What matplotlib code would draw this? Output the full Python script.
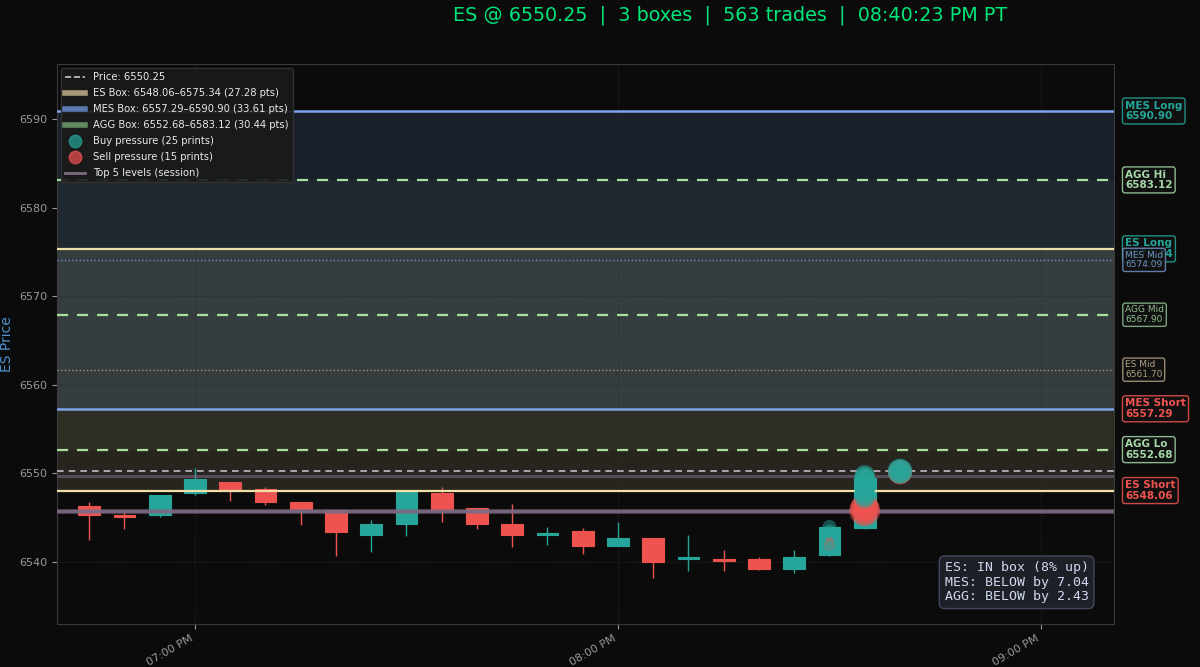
import datetime as dt
import matplotlib
matplotlib.use("Agg")
import matplotlib.pyplot as plt
import matplotlib.dates as mdates
import matplotlib.transforms as mtrans
from matplotlib.lines import Line2D

# ---- data ----
price = 6550.25
n_trades = 563
clock = "08:40:23 PM PT"

boxes = ["ES", "MES", "AGG"]
box_lo = [6548.06, 6557.29, 6552.68]
box_hi = [6575.34, 6590.90, 6583.12]

candle_start = dt.datetime(2025, 1, 6, 18, 45)
opens = [6546.30, 6545.30, 6545.30, 6547.75, 6549.05, 6548.20, 6546.80, 6545.85,
         6543.05, 6544.30, 6547.75, 6546.05, 6544.30, 6543.05, 6543.55, 6541.75,
         6542.75, 6540.30, 6540.35, 6540.35, 6539.25, 6540.80, 6543.80]
highs = [6546.80, 6545.60, 6547.60, 6550.60, 6549.05, 6548.50, 6546.80, 6545.85,
         6544.75, 6548.00, 6548.50, 6546.05, 6546.50, 6544.00, 6543.80, 6544.55,
         6542.75, 6543.05, 6541.30, 6540.55, 6541.30, 6544.00, 6549.75]
lows = [6542.50, 6543.70, 6545.10, 6547.60, 6546.90, 6546.40, 6544.20, 6540.70,
        6541.15, 6542.90, 6544.55, 6543.70, 6541.65, 6541.90, 6540.90, 6541.75,
        6538.20, 6539.00, 6539.00, 6539.10, 6538.75, 6540.70, 6543.70]
closes = [6545.30, 6545.05, 6547.55, 6549.35, 6548.05, 6546.80, 6546.00, 6543.35,
          6544.30, 6547.90, 6545.85, 6544.30, 6543.05, 6543.30, 6541.75, 6542.75,
          6540.05, 6540.55, 6540.10, 6539.25, 6540.55, 6544.00, 6549.50]

# prints: minutes after 18:00, price, size
buy_min = [150, 150, 150, 150] + [155] * 15 + [160] * 6
buy_px = [6543.95, 6543.6, 6542.0, 6541.8,
          6549.8, 6549.6, 6549.4, 6549.2, 6549.0, 6548.8, 6548.6, 6548.4,
          6548.2, 6548.0, 6547.8, 6547.6, 6547.4, 6547.2, 6549.7,
          6550.25, 6550.3, 6550.2, 6550.25, 6550.3, 6550.2]
buy_sz = [90, 60, 40, 30,
          200, 200, 190, 200, 180, 200, 190, 200, 180, 200, 190, 200, 180, 200, 150,
          300, 250, 200, 150, 100, 280]
sell_min = [150, 150] + [155] * 8 + [160] * 5
sell_px = [6541.9, 6542.3,
           6545.8, 6546.0, 6545.6, 6546.3, 6545.9, 6545.7, 6546.1, 6545.5,
           6550.1, 6550.2, 6550.0, 6550.25, 6550.1]
sell_sz = [50, 30,
           470, 350, 300, 250, 200, 150, 400, 100,
           280, 200, 150, 100, 250]

top_levels = [6549.75, 6545.75, 6545.75, 6545.6, 6545.9]

# ---- style ----
BG = "#0b0b0b"
UP = "#26a69a"
DN = "#ef5350"
fill_col = {"ES": "#d8c090", "MES": "#6b8fd6", "AGG": "#90d090"}
fill_alpha = {"ES": 0.145, "MES": 0.16, "AGG": 0.05}
legend_col = {"ES": "#a89a78", "MES": "#5a78b0", "AGG": "#5e8a5e"}

fig = plt.figure(figsize=(12, 6.67), dpi=100, facecolor=BG)
ax = fig.add_axes([0.0475, 0.0645, 0.8808, 0.8395])
ax.set_facecolor(BG)

# box fills
for b, lo, hi in zip(boxes, box_lo, box_hi):
    ax.axhspan(lo, hi, color=fill_col[b], alpha=fill_alpha[b], lw=0, zorder=0)

# candles
w = 3.1 / 1440
for i in range(len(opens)):
    t = mdates.date2num(candle_start + dt.timedelta(minutes=5 * i))
    o, h, l, c = opens[i], highs[i], lows[i], closes[i]
    col = UP if c >= o else DN
    ax.vlines(t, l, h, color=col, lw=1, zorder=2)
    bot = min(o, c)
    ht = max(abs(c - o), 0.25)
    ax.bar(t, ht, width=w, bottom=bot, color=col, edgecolor=col, lw=0.8, zorder=3)

# levels
es_lo, mes_lo, agg_lo = box_lo
es_hi, mes_hi, agg_hi = box_hi
for lv in top_levels:
    ax.axhline(lv, color="#7d6b85", lw=2.2, alpha=0.55, zorder=4)
ax.axhline(mes_hi, color="#7ea4e8", lw=1.8, zorder=4)
ax.axhline(mes_lo, color="#7ea4e8", lw=1.8, zorder=4)
ax.axhline(es_hi, color="#f0e0a8", lw=1.6, zorder=4)
ax.axhline(es_lo, color="#f0e0a8", lw=1.6, zorder=4)
for lv in (agg_hi, agg_lo, (agg_hi + agg_lo) / 2):
    ax.axhline(lv, color="#a8e0a0", lw=1.6, ls=(0, (5, 4)), zorder=4)
ax.axhline((mes_hi + mes_lo) / 2, color="#7090d0", lw=1, ls=":", zorder=4)
ax.axhline((es_hi + es_lo) / 2, color="#a09880", lw=1, ls=":", zorder=4)
ax.axhline(price, color="#c8b8c8", lw=1.2, ls=(0, (4, 3)), zorder=4)

# prints
base = dt.datetime(2025, 1, 6, 18, 0)
sx = [base + dt.timedelta(minutes=m) for m in sell_min]
bx = [base + dt.timedelta(minutes=m) for m in buy_min]
ax.scatter(sx, sell_px, s=sell_sz, color=DN, alpha=0.5, edgecolors=DN, linewidths=0.5, zorder=5)
ax.scatter(bx, buy_px, s=buy_sz, color=UP, alpha=0.45, edgecolors=UP, linewidths=0.5, zorder=6)

# axes
ax.set_ylim(6533.0, 6596.2)
ax.set_xlim(dt.datetime(2025, 1, 6, 18, 40, 26), dt.datetime(2025, 1, 6, 21, 10, 21))
ax.xaxis.set_major_locator(mdates.HourLocator())
ax.xaxis.set_major_formatter(mdates.DateFormatter("%I:%M %p"))
ax.tick_params(axis="both", colors="#999999", labelsize=8)
plt.setp(ax.get_xticklabels(), rotation=30, ha="right")
ax.grid(True, color="#2a2a2a", ls=":", lw=0.7)
for s in ax.spines.values():
    s.set_color("#3a3a3a")
ax.set_ylabel("ES Price", color="#4a90d0", fontsize=10)

# right side labels
tr = mtrans.blended_transform_factory(ax.transAxes, ax.transData)
side = [
    ("MES Long", mes_hi, UP, True),
    ("AGG Hi", agg_hi, "#a5d6a7", True),
    ("ES Long", es_hi, UP, True),
    ("MES Mid", (mes_hi + mes_lo) / 2, "#7090c0", False),
    ("AGG Mid", (agg_hi + agg_lo) / 2, "#8fbf8f", False),
    ("ES Mid", (es_hi + es_lo) / 2, "#b0a080", False),
    ("MES Short", mes_lo, DN, True),
    ("AGG Lo", agg_lo, "#a5d6a7", True),
    ("ES Short", es_lo, DN, True),
]
for name, lv, col, strong in side:
    ax.text(1.0105, lv, f"{name}\n{lv:.2f}", transform=tr, va="center", ha="left",
            color=col, fontsize=7.5 if strong else 6.5,
            fontweight="bold" if strong else "normal", linespacing=1.1,
            bbox=dict(boxstyle="round,pad=0.25", fc="#111111", ec=col, lw=1, alpha=0.85),
            clip_on=False, zorder=10)

# legend
handles = [
    Line2D([], [], color="#c8c8c8", ls="--", lw=1.2, label=f"Price: {price:.2f}"),
]
for b, lo, hi in zip(boxes, box_lo, box_hi):
    handles.append(Line2D([], [], color=legend_col[b], lw=4,
                          label=f"{b} Box: {lo:.2f}–{hi:.2f} ({hi - lo:.2f} pts)"))
handles += [
    Line2D([], [], ls="", marker="o", ms=9, color=UP, alpha=0.7,
           label=f"Buy pressure ({len(buy_px)} prints)"),
    Line2D([], [], ls="", marker="o", ms=9, color=DN, alpha=0.7,
           label=f"Sell pressure ({len(sell_px)} prints)"),
    Line2D([], [], color="#7d6b85", lw=2, label=f"Top {len(top_levels)} levels (session)"),
]
leg = ax.legend(handles=handles, loc="upper left", fontsize=7.2, labelspacing=0.6,
                facecolor="#1a1a1a", edgecolor="#333333", framealpha=0.92,
                borderaxespad=0.4)
for t in leg.get_texts():
    t.set_color("#e8e8e8")

# status box
pos = (price - es_lo) / (es_hi - es_lo) * 100
status = (f"ES: IN box ({pos:.0f}% up)\n"
          f"MES: BELOW by {mes_lo - price:.2f}\n"
          f"AGG: BELOW by {agg_lo - price:.2f}")
ax.text(0.976, 0.037, status, transform=ax.transAxes, ha="right", va="bottom",
        family="DejaVu Sans Mono", fontsize=9.5, color="#d0d8f0", linespacing=1.15,
        bbox=dict(boxstyle="round,pad=0.4", fc="#1e2028", ec="#45485a", lw=1), zorder=10)

fig.text(0.608, 0.977, f"ES @ {price:.2f}  |  {len(boxes)} boxes  |  {n_trades} trades  |  {clock}",
         ha="center", va="center", color="#00e67a", fontsize=13.8)

fig.savefig("out.png", dpi=100, facecolor=BG)
